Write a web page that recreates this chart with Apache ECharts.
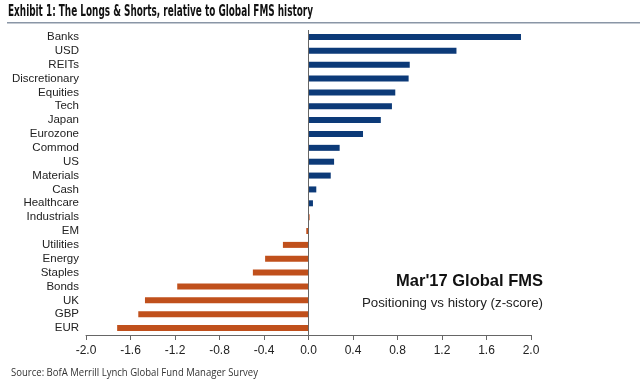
<!DOCTYPE html>
<html><head><meta charset="utf-8">
<script src="https://cdn.jsdelivr.net/npm/echarts@6/dist/echarts.min.js"></script>
<style>html,body{margin:0;padding:0;background:#fff}#c{width:640px;height:384px}</style>
</head><body><div id="c"></div>
<script>
const longCategories = ['Banks','USD','REITs','Discretionary','Equities','Tech','Japan','Eurozone','Commod','US','Materials','Cash','Healthcare'];
const longValues = [1.91,1.33,0.91,0.90,0.78,0.75,0.65,0.49,0.28,0.23,0.20,0.07,0.04];
const shortCategories = ['Industrials','EM','Utilities','Energy','Staples','Bonds','UK','GBP','EUR'];
const shortValues = [0.01,-0.02,-0.23,-0.39,-0.50,-1.18,-1.47,-1.53,-1.72];
const xTicks = [-2.0,-1.6,-1.2,-0.8,-0.4,0.0,0.4,0.8,1.2,1.6,2.0];
const titleText = 'Exhibit 1: The Longs & Shorts, relative to Global FMS history';
const sourceText = 'Source: BofA Merrill Lynch Global Fund Manager Survey';

const categories = longCategories.concat(shortCategories);
const longData = categories.map((c,i)=> i < longValues.length ? longValues[i] : '-');
const shortData = categories.map((c,i)=> i >= longValues.length ? shortValues[i-longValues.length] : '-');

// fit condensed-looking text to the target width
const mctx = document.createElement('canvas').getContext('2d');
function fitScale(font, text, width){ mctx.font = font; return width / mctx.measureText(text).width; }
const titleFont = 'bold 15px "DejaVu Sans", sans-serif';
const sourceFont = '11.5px "Open Sans", sans-serif';
const titleScale = fitScale(titleFont, titleText, 305);
const sourceScale = fitScale(sourceFont, sourceText, 247);

const chart = echarts.init(document.getElementById('c'), null, {renderer:'canvas'});
chart.setOption({
  animation:false,
  grid:{left:86, right:109, top:30, bottom:49},
  xAxis:{type:'value', min:xTicks[0], max:xTicks[xTicks.length-1], interval:0.4,
    axisLine:{show:true, lineStyle:{color:'#666', width:1}},
    axisTick:{show:true, length:5, lineStyle:{color:'#666'}},
    splitLine:{show:false},
    axisLabel:{color:'#222', fontFamily:'Liberation Sans, Arial', fontSize:12, margin:10,
      formatter:v=>v.toFixed(1)}},
  yAxis:{type:'category', data:categories, inverse:true,
    axisLine:{show:false}, axisTick:{show:false},
    axisLabel:{color:'#222', fontFamily:'Liberation Sans, Arial', fontSize:11.5, margin:7, interval:0}},
  series:[
    {name:'Longs', type:'bar', data:longData, barWidth:6, barGap:'-100%',
     itemStyle:{color:'#0c3a78'},
     markLine:{silent:true, symbol:'none', label:{show:false},
       lineStyle:{color:'#666', type:'solid', width:1}, data:[{xAxis:0}]}},
    {name:'Shorts', type:'bar', data:shortData, barWidth:6, barGap:'-100%',
     itemStyle:{color:'#c0501c'}}
  ],
  graphic:[
    {type:'text', x:8, y:5, scaleX:titleScale, style:{text:titleText, font:titleFont, fill:'#111'}},
    {type:'rect', shape:{x:7, y:22, width:633, height:1.5}, style:{fill:'#8a96a6'}},
    {type:'text', right:97, top:273, style:{text:"Mar'17 Global FMS",
      font:'bold 16.5px "Liberation Sans", Arial, sans-serif', fill:'#111', align:'right'}},
    {type:'text', right:97, top:297, style:{text:'Positioning vs history (z-score)',
      font:'13.3px "Liberation Sans", Arial, sans-serif', fill:'#222', align:'right'}},
    {type:'text', x:11, y:367, scaleX:sourceScale, style:{text:sourceText, font:sourceFont, fill:'#333'}}
  ]
});
</script></body></html>
